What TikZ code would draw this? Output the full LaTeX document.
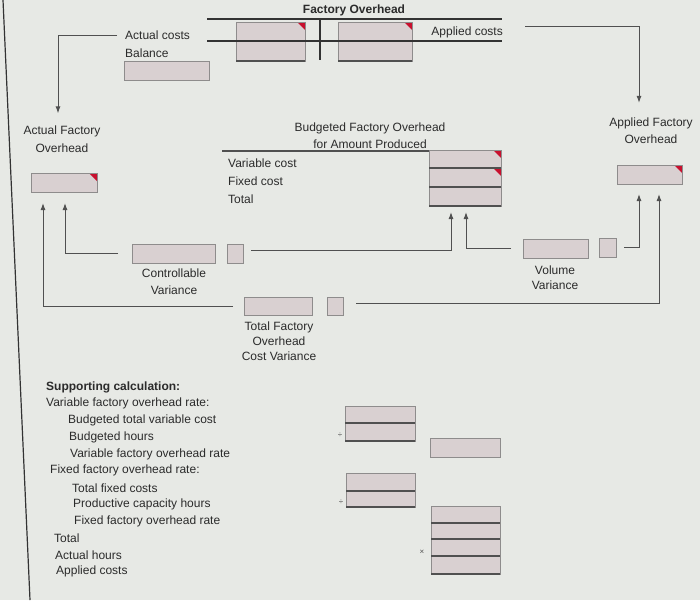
\documentclass[tikz,border=0pt]{standalone}
\usepackage{fontspec}
\setmainfont{Liberation Sans}
\usetikzlibrary{arrows.meta}
\definecolor{bg}{HTML}{E7E9E5}
\definecolor{boxfill}{HTML}{D9D0D1}
\definecolor{boxline}{HTML}{8E8C8C}
\definecolor{ink}{HTML}{2B2B2B}
\definecolor{conncol}{HTML}{505050}
\definecolor{markred}{HTML}{C8102E}
\definecolor{tcol}{HTML}{333333}
\begin{document}
\fontsize{12}{17}\selectfont
\begin{tikzpicture}[x=1pt,y=-1pt,
  bx/.style 2 args={draw=boxline, fill=boxfill, line width=0.8pt, inner sep=0pt, outer sep=0pt,
     anchor=north west, minimum width=#1pt, minimum height=#2pt},
  redmark/.style={path picture={\fill[markred] ([xshift=-8pt]path picture bounding box.north east)
     -- (path picture bounding box.north east) -- ([yshift=-8pt]path picture bounding box.north east) -- cycle;}},
  lbl/.style={inner sep=0pt, align=center, text=ink},
  ltxt/.style={inner sep=0pt, anchor=west, text=ink},
  conn/.style={draw=conncol, line width=1pt},
  arr/.style={conn, -{Latex[length=7pt,width=5pt]}},
  tline/.style={draw=tcol, line width=1.6pt},
  bline/.style={draw=conncol, line width=1.4pt},
  sign/.style={inner sep=0pt, text=conncol, font=\fontsize{8}{8}\selectfont}
]
\fill[bg] (0,0) rectangle (700,600);
\useasboundingbox (0,0) rectangle (700,600);
\draw[draw=tcol, line width=1.2pt] (3,0) -- (30,600);

% ---------- Factory Overhead T account ----------
\node[bx={69}{39}, redmark] (foL) at (236,22) {};
\node[bx={74}{39}, redmark] (foR) at (338,22) {};
\draw[tline] (207,19) -- (502,19);
\draw[draw=tcol, line width=1.2pt] (207,41) -- (502,41);
\draw[tline] (320,19) -- (320,60);
\node[lbl, font=\bfseries] (fohtitle) at (354,10) {Factory Overhead};
\node[lbl, anchor=east] (appcost) at (503,32) {Applied costs};
\node[ltxt] (actcost) at (125,35) {Actual costs};
\node[ltxt] (balance) at (125,53) {Balance};
\node[bx={85}{19}] (balbox) at (124,61) {};

% ---------- Actual Factory Overhead ----------
\node[lbl, font=\fontsize{12}{18}\selectfont] (afolbl) at (62,139) {Actual Factory\\Overhead};
\node[bx={66}{19}, redmark] (afobox) at (31,173) {};

% ---------- Applied Factory Overhead ----------
\node[lbl] (aolbl) at (651,131) {Applied Factory\\Overhead};
\node[bx={65}{19}, redmark] (aobox) at (617,165) {};

% ---------- Budgeted ----------
\node[lbl] (budlbl) at (370,135.5) {Budgeted Factory Overhead\\for Amount Produced};
\draw[draw=conncol, line width=1.2pt] (222,151) -- (501,151);
\node[ltxt] (varc) at (228,163) {Variable cost};
\node[ltxt] (fixc) at (228,181) {Fixed cost};
\node[ltxt] (totc) at (228,199) {Total};
\node[bx={72}{18}, redmark] (bb1) at (429,150) {};
\node[bx={72}{19}, redmark] (bb2) at (429,168) {};
\node[bx={72}{19}] (bb3) at (429,187) {};

% ---------- Variances ----------
\node[bx={83}{19}] (cvbox) at (132,244) {};
\node[bx={16}{19}] (cvsm) at (227,244) {};
\node[lbl] (cvlbl) at (174,281.5) {Controllable\\Variance};

\node[bx={65}{19}] (vvbox) at (523,239) {};
\node[bx={17}{19}] (vvsm) at (599,238) {};
\node[lbl, font=\fontsize{12}{15}\selectfont] (vvlbl) at (555,277.5) {Volume\\Variance};

\node[bx={68}{18}] (tvbox) at (244,297) {};
\node[bx={16}{18}] (tvsm) at (327,297) {};
\node[lbl, font=\fontsize{12}{15}\selectfont] (tvlbl) at (279,341) {Total Factory\\Overhead\\Cost Variance};

% ---------- connectors ----------
\draw[arr] ([xshift=-8pt]actcost.west) -| ([xshift=-4pt,yshift=12pt]afolbl.north);
\draw[arr] ([xshift=22pt,yshift=6pt]appcost.east) -| ([xshift=-12pt,yshift=15pt]aolbl.north);
\draw[arr] ([xshift=-11pt]tvbox.west) -| ([xshift=-21pt,yshift=-11pt]afobox.south);
\draw[arr] ([xshift=-14pt]cvbox.west) -| ([xshift=1pt,yshift=-11pt]afobox.south);
\draw[arr] ([xshift=8pt,yshift=3pt]cvsm.east) -| ([xshift=-14pt,yshift=-6pt]bb3.south);
\draw[arr] ([xshift=-12pt]vvbox.west) -| ([xshift=1pt,yshift=-6pt]bb3.south);
\draw[arr] ([xshift=8pt]vvsm.east) -| ([xshift=-10.5pt,yshift=-10pt]aobox.south);
\draw[arr] ([xshift=13pt,yshift=3pt]tvsm.east) -| ([xshift=9.5pt,yshift=-10pt]aobox.south);

% ---------- Supporting calculation ----------
\node[ltxt, font=\bfseries] (s1) at (46,387) {Supporting calculation:};
\node[ltxt] (s2) at (46,403) {Variable factory overhead rate:};
\node[ltxt] (s3) at (68,420) {Budgeted total variable cost};
\node[ltxt] (s4) at (69,437) {Budgeted hours};
\node[ltxt] (s5) at (70,454) {Variable factory overhead rate};
\node[ltxt] (s6) at (50,470) {Fixed factory overhead rate:};
\node[ltxt] (s7) at (72,488) {Total fixed costs};
\node[ltxt] (s8) at (73,504) {Productive capacity hours};
\node[ltxt] (s9) at (74,521) {Fixed factory overhead rate};
\node[ltxt] (s10) at (54,538) {Total};
\node[ltxt] (s11) at (55,555) {Actual hours};
\node[ltxt] (s12) at (56,571) {Applied costs};

\node[bx={70}{17}] (sc1a) at (345,406) {};
\node[bx={70}{18}] (sc1b) at (345,423) {};
\node[sign] (d1) at (340,435) {÷};
\node[bx={70}{19}] (sc2) at (430,438) {};
\node[bx={69}{18}] (sc3a) at (346,473) {};
\node[bx={69}{16}] (sc3b) at (346,491) {};
\node[sign] (d2) at (341,502) {÷};
\node[bx={69}{17}] (sc4a) at (431,506) {};
\node[bx={69}{16}] (sc4b) at (431,523) {};
\node[bx={69}{17}] (sc4c) at (431,539) {};
\node[bx={69}{18}] (sc4d) at (431,556) {};
\node[sign] (m1) at (422,552) {×};

\foreach \n in {foL,foR,bb3,sc1b,sc3b,sc4d}
  \draw[bline] (\n.south west) -- (\n.south east);
\foreach \n in {bb1,bb2,sc1a,sc3a,sc4a,sc4b,sc4c}
  \draw[draw=conncol, line width=1.1pt] (\n.south west) -- (\n.south east);
\end{tikzpicture}
\end{document}
